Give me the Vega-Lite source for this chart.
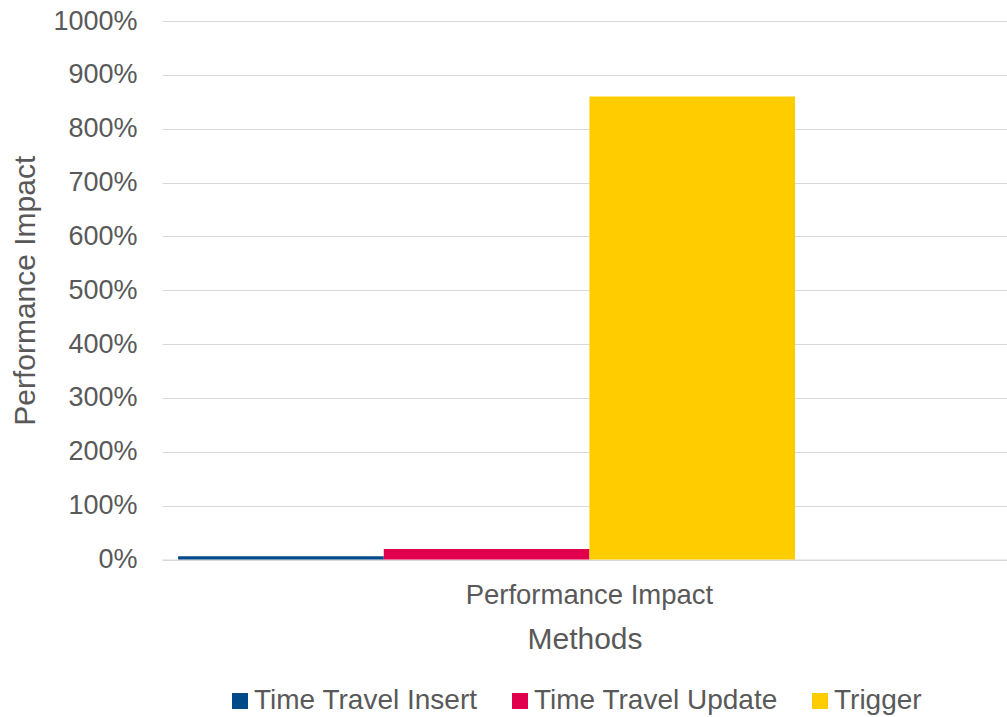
{
  "$schema": "https://vega.github.io/schema/vega-lite/v6.json",
  "width": 845,
  "height": 538.5,
  "autosize": {"type": "none"},
  "padding": {"left": 162, "top": 21, "right": 0, "bottom": 157.5},
  "background": "white",
  "config": {"view": {"stroke": null}, "font": "Liberation Sans, Arial, sans-serif"},
  "data": {"values": [
    {"category": "Performance Impact", "method": "Time Travel Insert", "impact": 0.06},
    {"category": "Performance Impact", "method": "Time Travel Update", "impact": 0.195},
    {"category": "Performance Impact", "method": "Trigger", "impact": 8.6}
  ]},
  "mark": {"type": "bar"},
  "encoding": {
    "x": {
      "field": "category", "type": "nominal",
      "scale": {"paddingInner": 0, "paddingOuter": 0.0136, "align": 0.72},
      "axis": {
        "title": "Methods", "labelAngle": 0, "labelFontSize": 27.5, "labelColor": "#595959", "labelLimit": 0,
        "labelPadding": 22, "ticks": false, "tickSize": 0, "labelBaseline": "top",
        "domainColor": "#D9D9D9", "domainWidth": 1,
        "titleFontSize": 30, "titleColor": "#595959", "titleFontWeight": "normal", "titlePadding": 15
      }
    },
    "xOffset": {
      "field": "method", "type": "nominal",
      "scale": {"domain": ["Time Travel Insert", "Time Travel Update", "Trigger", "_"], "paddingInner": 0, "paddingOuter": 0}
    },
    "y": {
      "field": "impact", "type": "quantitative",
      "scale": {"domain": [0, 10], "nice": false},
      "axis": {
        "title": "Performance Impact", "values": [0, 1, 2, 3, 4, 5, 6, 7, 8, 9, 10], "format": ".0%",
        "labelFontSize": 27, "labelColor": "#595959", "labelPadding": 25, "ticks": false, "tickSize": 0,
        "domain": false, "grid": true, "gridColor": "#D9D9D9", "gridWidth": 1,
        "titleFontSize": 30, "titleColor": "#595959", "titleFontWeight": "normal", "titlePadding": 12
      }
    },
    "color": {
      "field": "method", "type": "nominal",
      "scale": {"domain": ["Time Travel Insert", "Time Travel Update", "Trigger"], "range": ["#004A8A", "#E0004D", "#FFCC00"]},
      "legend": {
        "orient": "none", "legendX": 64, "legendY": 666, "direction": "horizontal", "columns": 3,
        "title": null, "symbolType": "square", "symbolSize": 256, "symbolStrokeWidth": 0, "symbolOpacity": 1,
        "labelFontSize": 28, "labelColor": "#595959", "labelOffset": 0, "columnPadding": 28, "labelLimit": 0
      }
    }
  }
}
